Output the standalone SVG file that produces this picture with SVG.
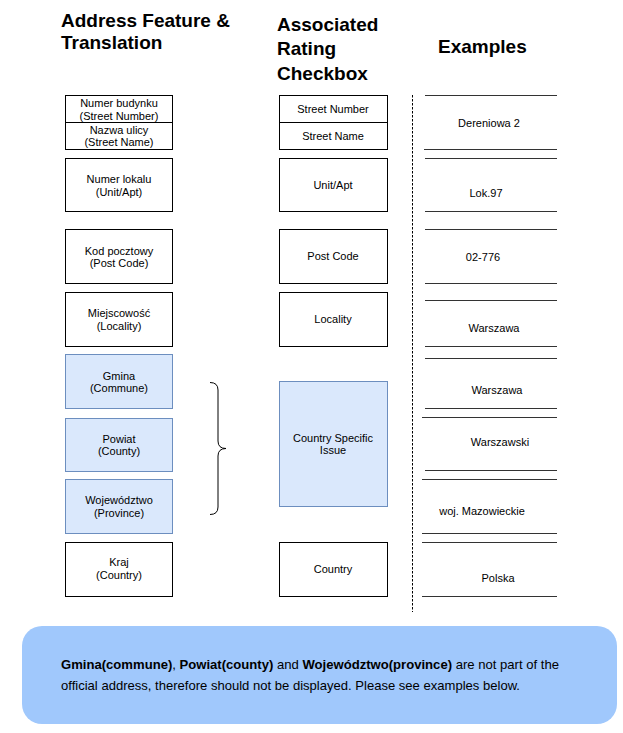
<svg xmlns="http://www.w3.org/2000/svg" width="623" height="733" viewBox="0 0 623 733">
<style>
.hd{font-family:"Liberation Sans",Arial,sans-serif;font-weight:bold;font-size:19px;fill:#000}
.t{font-family:"Liberation Sans",Arial,sans-serif;font-size:11px;fill:#000;text-anchor:middle}
.w{fill:#fff;stroke:#000;stroke-width:1}
.b{fill:#dae8fc;stroke:#6c8ebf;stroke-width:1}
.ex{stroke:#333;stroke-width:1}
.note{font-family:"Liberation Sans",Arial,sans-serif;font-size:13px;fill:#000}
</style>
<rect width="623" height="733" fill="#fff"/>
<g id="headers">
<text class="hd" x="61" y="27">Address Feature &amp;</text>
<text class="hd" x="61" y="49">Translation</text>
<text class="hd" x="277" y="31">Associated</text>
<text class="hd" x="277" y="55">Rating</text>
<text class="hd" x="277" y="80">Checkbox</text>
<text class="hd" x="438" y="53">Examples</text>
</g>
<g id="f-street">
<rect class="w" x="65.5" y="95.5" width="107" height="54"/>
<line x1="65.5" y1="122.5" x2="172.5" y2="122.5" stroke="#000"/>
<text class="t" x="119" y="107">Numer budynku</text>
<text class="t" x="119" y="120">(Street Number)</text>
<text class="t" x="119" y="134">Nazwa ulicy</text>
<text class="t" x="119" y="146">(Street Name)</text>
</g>
<g id="f-unit">
<rect class="w" x="65.5" y="158.5" width="107" height="53"/>
<text class="t" x="119" y="183">Numer lokalu</text>
<text class="t" x="119" y="196">(Unit/Apt)</text>
</g>
<g id="f-post">
<rect class="w" x="65.5" y="229.5" width="107" height="54"/>
<text class="t" x="119" y="255">Kod pocztowy</text>
<text class="t" x="119" y="267">(Post Code)</text>
</g>
<g id="f-locality">
<rect class="w" x="65.5" y="292.5" width="107" height="54"/>
<text class="t" x="119" y="317">Miejscowość</text>
<text class="t" x="119" y="330">(Locality)</text>
</g>
<g id="f-gmina">
<rect class="b" x="65.5" y="354.5" width="107" height="54"/>
<text class="t" x="119" y="380">Gmina</text>
<text class="t" x="119" y="392">(Commune)</text>
</g>
<g id="f-powiat">
<rect class="b" x="65.5" y="418.5" width="107" height="53"/>
<text class="t" x="119" y="443">Powiat</text>
<text class="t" x="119" y="455">(County)</text>
</g>
<g id="f-woj">
<rect class="b" x="65.5" y="479.5" width="107" height="54"/>
<text class="t" x="119" y="504">Województwo</text>
<text class="t" x="119" y="517">(Province)</text>
</g>
<g id="f-kraj">
<rect class="w" x="65.5" y="542.5" width="107" height="54"/>
<text class="t" x="119" y="566">Kraj</text>
<text class="t" x="119" y="579">(Country)</text>
</g>
<g id="c-street">
<rect class="w" x="279.5" y="95.5" width="108" height="54"/>
<line x1="279.5" y1="122.5" x2="387.5" y2="122.5" stroke="#000"/>
<text class="t" x="333" y="113">Street Number</text>
<text class="t" x="333" y="140">Street Name</text>
</g>
<g id="c-unit">
<rect class="w" x="279.5" y="158.5" width="108" height="53"/>
<text class="t" x="333" y="189">Unit/Apt</text>
</g>
<g id="c-post">
<rect class="w" x="279.5" y="229.5" width="108" height="54"/>
<text class="t" x="333" y="260">Post Code</text>
</g>
<g id="c-locality">
<rect class="w" x="279.5" y="292.5" width="108" height="54"/>
<text class="t" x="333" y="323">Locality</text>
</g>
<g id="c-specific">
<rect class="b" x="279.5" y="381.5" width="108" height="125"/>
<text class="t" x="333" y="442">Country Specific</text>
<text class="t" x="333" y="454">Issue</text>
</g>
<g id="c-country">
<rect class="w" x="279.5" y="542.5" width="108" height="54"/>
<text class="t" x="333" y="573">Country</text>
</g>
<g id="connectors">
<path d="M210,382.5 Q218,382.5 218,390 L218,441 Q218,448.5 226,448.5 Q218,448.5 218,456 L218,507 Q218,514.5 210,514.5" fill="none" stroke="#000" stroke-width="1"/>
<line x1="412.5" y1="95" x2="412.5" y2="612" stroke="#000" stroke-width="1" stroke-dasharray="2.5 1.5"/>
</g>
<g id="examples">
<line class="ex" x1="425" y1="95.5" x2="557" y2="95.5"/>
<line class="ex" x1="424" y1="149.5" x2="557" y2="149.5"/>
<line class="ex" x1="425" y1="158.5" x2="557" y2="158.5"/>
<line class="ex" x1="425" y1="211.5" x2="557" y2="211.5"/>
<line class="ex" x1="425" y1="229.5" x2="557" y2="229.5"/>
<line class="ex" x1="425" y1="283.5" x2="557" y2="283.5"/>
<line class="ex" x1="425" y1="300.5" x2="557" y2="300.5"/>
<line class="ex" x1="425" y1="346.5" x2="557" y2="346.5"/>
<line class="ex" x1="425" y1="358.5" x2="557" y2="358.5"/>
<line class="ex" x1="425" y1="408.5" x2="557" y2="408.5"/>
<line class="ex" x1="422" y1="417.5" x2="557" y2="417.5"/>
<line class="ex" x1="425" y1="470.5" x2="557" y2="470.5"/>
<line class="ex" x1="422" y1="479.5" x2="557" y2="479.5"/>
<line class="ex" x1="422" y1="533.5" x2="557" y2="533.5"/>
<line class="ex" x1="422" y1="542.5" x2="557" y2="542.5"/>
<line class="ex" x1="422" y1="596.5" x2="557" y2="596.5"/>
<text class="t" x="489" y="127">Dereniowa 2</text>
<text class="t" x="486" y="197">Lok.97</text>
<text class="t" x="483" y="261">02-776</text>
<text class="t" x="494" y="332">Warszawa</text>
<text class="t" x="497" y="394">Warszawa</text>
<text class="t" x="500" y="446">Warszawski</text>
<text class="t" x="482" y="515">woj. Mazowieckie</text>
<text class="t" x="498" y="582">Polska</text>
</g>
<g id="note">
<rect x="22" y="626" width="595" height="98" rx="20" ry="20" fill="#a0c8fc"/>
<text class="note" x="61" y="669" textLength="498" lengthAdjust="spacingAndGlyphs"><tspan font-weight="bold">Gmina(commune)</tspan>, <tspan font-weight="bold">Powiat(county)</tspan> and <tspan font-weight="bold">Województwo(province)</tspan> are not part of the</text>
<text class="note" x="61" y="690" textLength="459" lengthAdjust="spacingAndGlyphs">official address, therefore should not be displayed. Please see examples below.</text>
</g>
</svg>
